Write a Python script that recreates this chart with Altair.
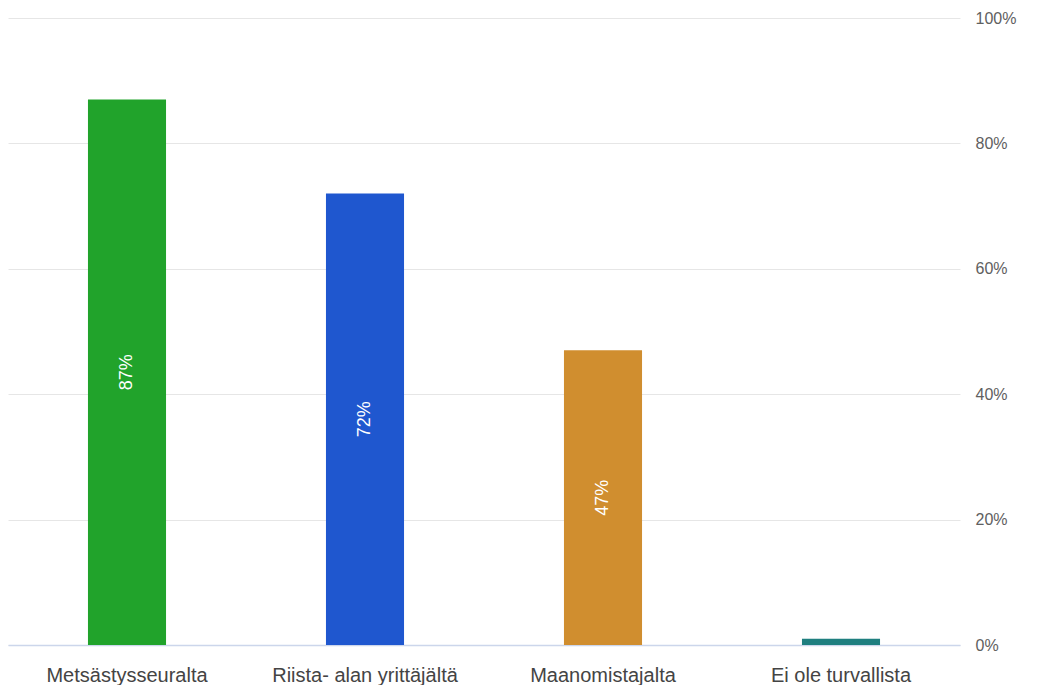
import altair as alt
import pandas as pd

categories = ["Metsästysseuralta", "Riista- alan yrittäjältä", "Maanomistajalta", "Ei ole turvallista"]
values = [87, 72, 47, 1]
colors = ["#21a32b", "#1f57cf", "#d08e2f", "#1f7f7f"]
labels = ["87%", "72%", "47%", ""]

df = pd.DataFrame({"cat": categories, "val": values, "color": colors, "label": labels})

x = alt.X("cat:N", sort=categories, title=None,
          scale=alt.Scale(paddingInner=0.672, paddingOuter=0.336),
          axis=alt.Axis(labelAngle=0, labelFont="Liberation Sans", labelFontSize=20,
                        labelColor="#444444", labelPadding=20, ticks=False,
                        labelLimit=400,
                        domainColor="#ccd6eb", domainWidth=1.5, grid=False))
y = alt.Y("val:Q", title=None,
          scale=alt.Scale(domain=[0, 100], nice=False),
          axis=alt.Axis(orient="right", values=[0, 20, 40, 60, 80, 100],
                        labelExpr="datum.value + '%'", labelFont="Liberation Sans",
                        labelFontSize=16, labelColor="#606060", labelPadding=15,
                        ticks=False, domain=False, gridColor="#e6e6e6"))

bars = alt.Chart(df).mark_bar().encode(
    x=x, y=y, color=alt.Color("color:N", scale=None)
)

text = alt.Chart(df).mark_text(angle=270, color="white", font="Liberation Sans",
                               fontSize=18, baseline="middle", align="center").encode(
    x=alt.X("cat:N", sort=categories),
    y=alt.Y("mid:Q"),
    text="label:N"
).transform_calculate(mid="datum.val / 2")

chart = (bars + text).properties(
    width=952, height=627,
    background="white",
    padding={"left": 0, "top": 2, "right": 5, "bottom": 0}
).configure_view(stroke=None)

chart.save("out.html", embed_options={"renderer": "svg", "actions": False})
